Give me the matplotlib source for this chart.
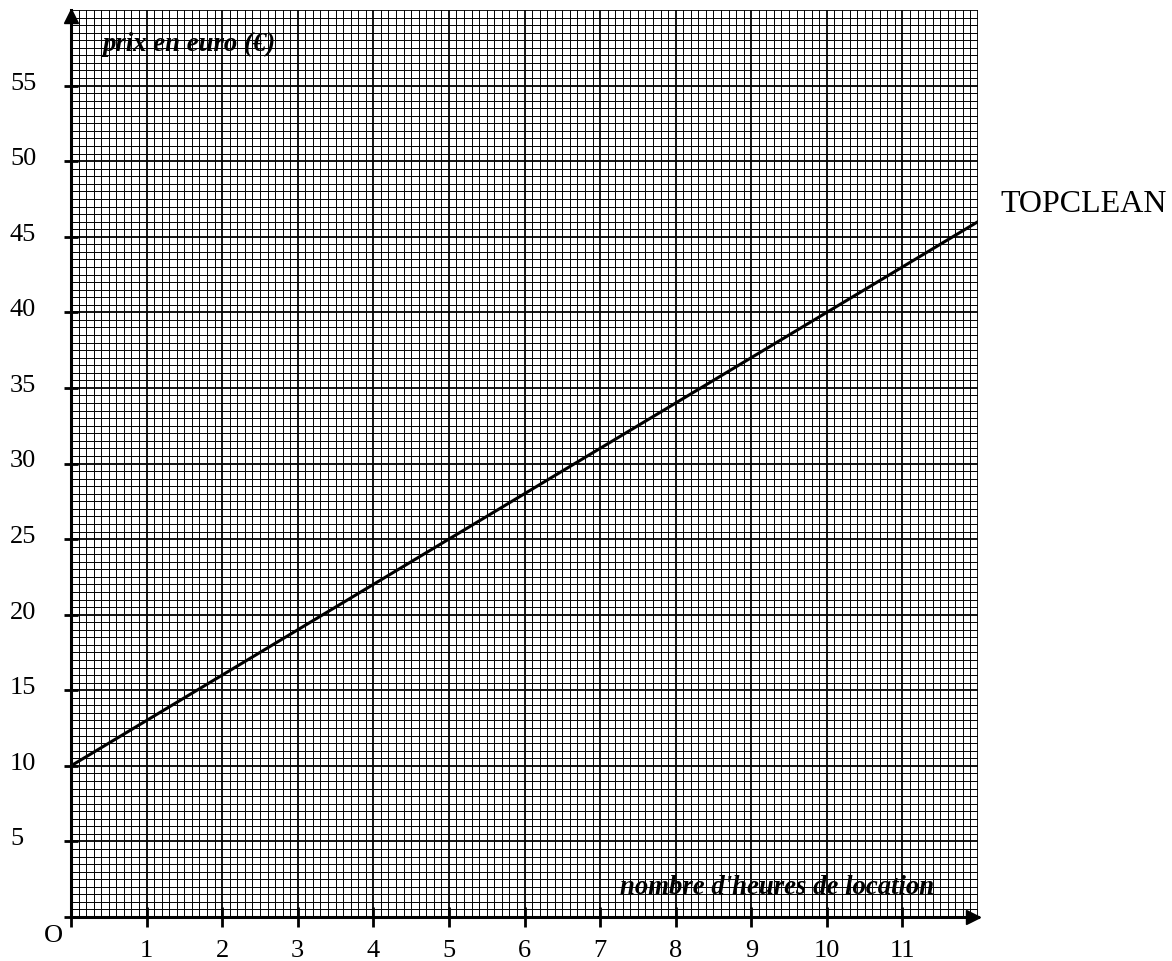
import numpy as np
import matplotlib
matplotlib.use("Agg")
import matplotlib.pyplot as plt

# data: TOPCLEAN price line (hours -> euros)
hours = [0, 12]
price = [10, 46]
x_ticks = [1, 2, 3, 4, 5, 6, 7, 8, 9, 10, 11]
y_ticks = [5, 10, 15, 20, 25, 30, 35, 40, 45, 50, 55]
x_max, y_max = 12, 60

plt.rcParams['font.family'] = ['Liberation Serif', 'DejaVu Serif']

fig = plt.figure(figsize=(11.72, 9.62), dpi=100)
ax = fig.add_axes([71 / 1172, 1 - 918 / 962, 907 / 1172, 907 / 962])
ax.set_xlim(0, x_max)
ax.set_ylim(0, y_max)

# graph paper grid
for xv in np.arange(0, x_max + 0.001, 0.1):
    major = abs(xv - round(xv)) < 1e-6
    ax.axvline(xv, color='black', lw=1.3 if major else 0.7, zorder=1)
for yv in np.arange(0, y_max + 0.001, 0.5):
    major = abs(yv / 5 - round(yv / 5)) < 1e-6
    ax.axhline(yv, color='black', lw=1.3 if major else 0.7, zorder=1)

# line
ax.plot(hours, price, color='black', lw=2.2, zorder=3)

# axes style
for s in ['top', 'right']:
    ax.spines[s].set_visible(False)
for s in ['left', 'bottom']:
    ax.spines[s].set_linewidth(2.2)
    ax.spines[s].set_zorder(4)

ax.set_xticks([0] + x_ticks)
ax.set_yticks([0] + y_ticks)
ax.set_xticklabels([])
ax.set_yticklabels([])
ax.tick_params(axis='x', direction='inout', length=14, width=2)
ax.tick_params(axis='y', direction='inout', length=10, width=2)

# arrows
ax.plot(11.93, 0, marker='>', color='black', ms=10, clip_on=False, zorder=5)
ax.plot(0, 59.6, marker='^', color='black', ms=10, clip_on=False, zorder=5)

# tick labels
for xv in x_ticks:
    ax.text(xv, -0.036, str(xv), transform=ax.get_xaxis_transform(),
            ha='center', va='center', fontsize=19)
for yv in y_ticks:
    ax.text(-0.0673, yv + 0.2, str(yv), transform=ax.get_yaxis_transform(),
            ha='left', va='center', fontsize=19)
ax.text(-0.0198, -0.0198, 'O', transform=ax.transAxes, ha='center', va='center', fontsize=19)

# axis titles
ax.text(0.42, 57.8, 'prix en euro (€)', ha='left', va='center', fontsize=19.3,
        fontweight='bold', fontstyle='italic', zorder=6)
ax.text(7.26, 2.0, "nombre d'heures de location", ha='left', va='center', fontsize=19.3,
        fontweight='bold', fontstyle='italic', zorder=6)

# series label
ax.text(12.3, 47.2, 'TOPCLEAN', ha='left', va='center', fontsize=23, clip_on=False)

fig.savefig('out.png', dpi=100)
